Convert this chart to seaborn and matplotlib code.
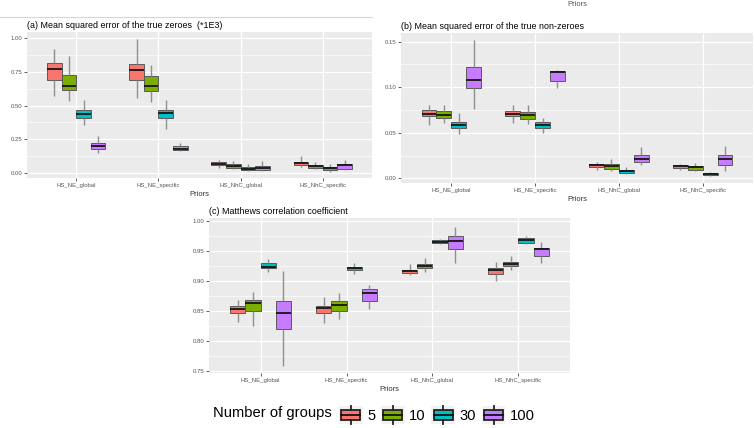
import numpy as np
import pandas as pd
import matplotlib
matplotlib.use("Agg")
import matplotlib.pyplot as plt
import seaborn as sns
from matplotlib.patches import Rectangle, Patch
from matplotlib.lines import Line2D
from matplotlib.legend_handler import HandlerBase
from matplotlib.ticker import MultipleLocator, FormatStrFormatter

# === Data: five-number summaries [low whisker, q1, median, q3, high whisker] per prior ===
priors = ["HS_NE_global", "HS_NE_specific", "HS_NhC_global", "HS_NhC_specific"]
groups = ["5", "10", "30", "100"]
colors = ["#F8766D", "#7CAE00", "#00BFC4", "#C77CFF"]

# (a) MSE of the true zeroes (*1E3)
zeroes_5 = [[0.568, 0.690, 0.773, 0.818, 0.920], [0.559, 0.690, 0.760, 0.810, 0.990],
            [0.037, 0.057, 0.070, 0.083, 0.100], [0.042, 0.057, 0.075, 0.085, 0.125]]
zeroes_10 = [[0.534, 0.618, 0.648, 0.726, 0.870], [0.524, 0.608, 0.648, 0.716, 0.800],
             [0.032, 0.037, 0.052, 0.065, 0.092], [0.032, 0.037, 0.055, 0.062, 0.082]]
zeroes_30 = [[0.357, 0.404, 0.441, 0.466, 0.544], [0.327, 0.404, 0.446, 0.466, 0.539],
             [0.012, 0.020, 0.032, 0.045, 0.065], [0.010, 0.020, 0.037, 0.045, 0.070]]
zeroes_100 = [[0.150, 0.177, 0.200, 0.219, 0.272], [0.162, 0.167, 0.180, 0.202, 0.224],
              [0.012, 0.020, 0.037, 0.052, 0.090], [0.022, 0.030, 0.057, 0.067, 0.100]]

# (b) MSE of the true non-zeroes
nonzero_5 = [[0.0590, 0.0680, 0.0710, 0.0746, 0.0800], [0.0607, 0.0680, 0.0710, 0.0735, 0.0800],
             [0.0092, 0.0120, 0.0147, 0.0158, 0.0180], [0.0088, 0.0110, 0.0132, 0.0147, 0.0160]]
nonzero_10 = [[0.0607, 0.0660, 0.0695, 0.0740, 0.0810], [0.0600, 0.0650, 0.0690, 0.0728, 0.0810],
              [0.0080, 0.0107, 0.0140, 0.0162, 0.0217], [0.0080, 0.0092, 0.0121, 0.0136, 0.0165]]
nonzero_30 = [[0.0490, 0.0548, 0.0580, 0.0620, 0.0717], [0.0496, 0.0548, 0.0580, 0.0614, 0.0665],
              [0.0044, 0.0059, 0.0077, 0.0092, 0.0125], [0.0026, 0.0040, 0.0051, 0.0063, 0.0074]]
nonzero_100 = [[0.0760, 0.0996, 0.1085, 0.1220, 0.1520], [0.0996, 0.1070, 0.1165, 0.1176, 0.1190],
               [0.0143, 0.0180, 0.0217, 0.0254, 0.0340], [0.0077, 0.0147, 0.0217, 0.0254, 0.0350]]

# (c) Matthews correlation coefficient
mcc_5 = [[0.8320, 0.8465, 0.8537, 0.8575, 0.8686], [0.8293, 0.8465, 0.8542, 0.8586, 0.8725],
         [0.9090, 0.9124, 0.9157, 0.9185, 0.9280], [0.8990, 0.9119, 0.9174, 0.9218, 0.9320]]
mcc_10 = [[0.8254, 0.8500, 0.8625, 0.8686, 0.8820], [0.8359, 0.8500, 0.8592, 0.8664, 0.8792],
          [0.9150, 0.9213, 0.9250, 0.9285, 0.9380], [0.9185, 0.9246, 0.9285, 0.9313, 0.9407]]
mcc_30 = [[0.9152, 0.9213, 0.9235, 0.9296, 0.9368], [0.9113, 0.9174, 0.9213, 0.9235, 0.9296],
          [0.9606, 0.9629, 0.9650, 0.9673, 0.9695], [0.9606, 0.9634, 0.9684, 0.9712, 0.9740]]
mcc_100 = [[0.7578, 0.8198, 0.8465, 0.8664, 0.9168], [0.8530, 0.8664, 0.8803, 0.8864, 0.8930],
           [0.9296, 0.9534, 0.9656, 0.9750, 0.9895], [0.9300, 0.9412, 0.9529, 0.9545, 0.9650]]


def to_long(per_group):
    rows = []
    for g, stats in zip(groups, per_group):
        for p, five in zip(priors, stats):
            for v in five:
                rows.append((p, g, v))
    return pd.DataFrame(rows, columns=["Priors", "Number of groups", "value"])


plt.rcParams["font.family"] = ["Liberation Sans", "DejaVu Sans"]

fig = plt.figure(figsize=(7.54, 4.28), dpi=100)
W, H = 754, 428


def add_panel(l, t, r, b):
    return fig.add_axes([l / W, 1 - b / H, (r - l) / W, (b - t) / H])


def draw(ax, df, title, ylim, major, minor):
    ax.set_facecolor("#EBEBEB")
    ax.set_axisbelow(True)
    sns.boxplot(data=df, x="Priors", y="value", hue="Number of groups",
                order=priors, hue_order=groups, palette=colors, saturation=1,
                width=0.71, gap=0, whis=(0, 100), fliersize=0,
                linecolor="#5a5a5a", linewidth=0.7,
                whiskerprops={"color": "#8f8f8f", "linewidth": 1.0},
                medianprops={"color": "#151515", "linewidth": 1.3},
                capprops={"linewidth": 0},
                legend=False, ax=ax)
    ax.set_xlim(-0.6, 3.6)
    ax.set_ylim(*ylim)
    ax.yaxis.set_major_locator(MultipleLocator(major))
    ax.yaxis.set_minor_locator(MultipleLocator(minor))
    ax.yaxis.set_major_formatter(FormatStrFormatter("%.2f"))
    ax.grid(which="major", color="white", linewidth=0.9)
    ax.grid(which="minor", axis="y", color="white", linewidth=0.45)
    for s in ax.spines.values():
        s.set_visible(False)
    ax.tick_params(which="major", length=2, width=0.6, color="#444444",
                   labelsize=4.3, labelcolor="#555555", pad=1.5)
    ax.tick_params(which="minor", length=0)
    ax.set_ylabel("")
    ax.set_xlabel("Priors", fontsize=5.5, color="#333333", labelpad=2)
    ax.set_title(title, loc="left", fontsize=6.4, pad=3)


ax_a = add_panel(27, 32, 372, 178)
draw(ax_a, to_long([zeroes_5, zeroes_10, zeroes_30, zeroes_100]),
     "(a) Mean squared error of the true zeroes  (*1E3)", (-0.037, 1.045), 0.25, 0.125)

ax_b = add_panel(401, 33, 753, 183)
draw(ax_b, to_long([nonzero_5, nonzero_10, nonzero_30, nonzero_100]),
     "(b) Mean squared error of the true non-zeroes", (-0.0052, 0.1596), 0.05, 0.025)

ax_c = add_panel(209, 218, 570, 373)
draw(ax_c, to_long([mcc_5, mcc_10, mcc_30, mcc_100]),
     "(c) Matthews correlation coefficient", (0.7465, 1.0045), 0.05, 0.025)

# thin rule above panel (a) and the cut-off axis label at the very top
fig.add_artist(Line2D([0, 372 / W], [1 - 17 / H, 1 - 17 / H], color="#d6d6d6", linewidth=0.8))
fig.text(577 / W, 1 - 5 / H, "Priors", fontsize=5.5, color="#555555", ha="center", va="center")


# === Legend with boxplot-style keys ===
class BoxKey(HandlerBase):
    def create_artists(self, legend, orig_handle, xdescent, ydescent, width, height, fontsize, trans):
        x0, y0 = -xdescent, -ydescent
        bg = Rectangle((x0, y0), width, height, facecolor="#F2F2F2", edgecolor="none", transform=trans)
        box = Rectangle((x0 + 0.1 * width, y0 + 0.22 * height), 0.8 * width, 0.56 * height,
                        facecolor=orig_handle.get_facecolor(), edgecolor="#222222",
                        linewidth=1.3, transform=trans)
        med = Line2D([x0 + 0.1 * width, x0 + 0.9 * width], [y0 + 0.5 * height] * 2,
                     color="#111111", linewidth=1.3, transform=trans)
        top = Line2D([x0 + 0.5 * width] * 2, [y0 + 0.78 * height, y0 + height],
                     color="#222222", linewidth=1.3, transform=trans)
        bot = Line2D([x0 + 0.5 * width] * 2, [y0, y0 + 0.22 * height],
                     color="#222222", linewidth=1.3, transform=trans)
        return [bg, box, med, top, bot]


fig.text(213 / W, 1 - 413 / H, "Number of groups", fontsize=10.6, va="center")
handles = [Patch(facecolor=c) for c in colors]
fig.legend(handles=handles, labels=groups, handler_map={Patch: BoxKey()},
           ncol=4, loc="center left", bbox_to_anchor=(339 / W, 1 - 415 / H),
           frameon=False, fontsize=10.6, handlelength=1.6, handleheight=1.6,
           handletextpad=0.3, columnspacing=0.4, borderpad=0, borderaxespad=0)

fig.savefig("out.png", dpi=100)
